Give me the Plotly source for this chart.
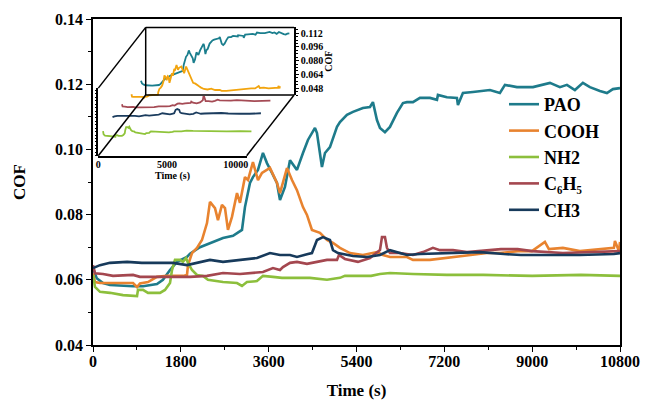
import plotly.graph_objects as go

# ---------------- data ----------------
SERIES = ["PAO", "COOH", "NH2", "C6H5", "CH3"]
LABELS = ["PAO", "COOH", "NH2", "C₆H₅", "CH3"]

pao_t = [0, 76, 205, 348, 820, 1025, 1311, 1434, 1578, 1721, 1926, 1988, 2192, 2397, 2664, 2869, 3053, 3114,
         3217, 3278, 3381, 3483, 3565, 3668, 3770, 3832, 3934, 4037, 4180, 4303, 4405, 4549, 4590, 4692, 4754,
         4856, 5000, 5061, 5204, 5327, 5532, 5676, 5737, 5819, 5881, 5983, 6086, 6229, 6352, 6434, 6557, 6700,
         6905, 7049, 7069, 7253, 7458, 7479, 7581, 7786, 8135, 8339, 8442, 8688, 9016, 9364, 9569, 9712, 9876,
         10040, 10183, 10388, 10532, 10655, 10800]
pao_v = [0.0636, 0.0605, 0.059, 0.0584, 0.058, 0.058, 0.0587, 0.060, 0.063, 0.0655, 0.067, 0.068, 0.070, 0.0713,
         0.0728, 0.0735, 0.0753, 0.0823, 0.0897, 0.0915, 0.0937, 0.0989, 0.0958, 0.0928, 0.0897, 0.0845, 0.0885,
         0.0967, 0.0937, 0.0989, 0.1029, 0.1066, 0.105, 0.0946, 0.0989, 0.1007, 0.1069, 0.1084, 0.1106, 0.1115,
         0.1127, 0.113, 0.1145, 0.109, 0.1066, 0.1053, 0.1069, 0.1112, 0.1142, 0.1145, 0.1145, 0.1158, 0.1158,
         0.1152, 0.1167, 0.116, 0.1158, 0.1136, 0.1173, 0.1176, 0.1182, 0.1173, 0.1198, 0.1191, 0.1191, 0.1204,
         0.1191, 0.1198, 0.1182, 0.1204, 0.1191, 0.1179, 0.1173, 0.1185, 0.1188]

cooh_t = [0, 41, 143, 820, 902, 963, 1127, 1311, 1516, 1844, 1926, 1947, 2029, 2131, 2233, 2336, 2397, 2500, 2561,
          2643, 2705, 2766, 2848, 2951, 3012, 3114, 3176, 3278, 3381, 3463, 3627, 3770, 3832, 3975, 4078, 4180,
          4303, 4385, 4487, 4651, 4795, 4918, 5061, 5266, 5532, 5819, 5942, 6086, 6434, 6557, 6905, 7253, 7581,
          7868, 8073, 8339, 8708, 8995, 9261, 9343, 9630, 9978, 10327, 10675, 10696, 10778, 10800]
cooh_v = [0.062, 0.0593, 0.059, 0.059, 0.0578, 0.0589, 0.0593, 0.0609, 0.0612, 0.0612, 0.0615, 0.0645, 0.0682,
          0.0698, 0.0722, 0.0774, 0.0839, 0.082, 0.0783, 0.083, 0.082, 0.0753, 0.0793, 0.0866, 0.0836, 0.0915,
          0.0906, 0.0961, 0.0906, 0.0928, 0.0943, 0.0897, 0.0866, 0.0943, 0.0906, 0.0875, 0.0823, 0.0799, 0.0753,
          0.0744, 0.0722, 0.0713, 0.0698, 0.0682, 0.0676, 0.0685, 0.0676, 0.067, 0.067, 0.0661, 0.0661, 0.0667,
          0.0673, 0.0679, 0.0682, 0.0682, 0.0688, 0.0688, 0.0716, 0.0694, 0.0698, 0.0688, 0.0694, 0.0698, 0.0719,
          0.0688, 0.0716]

nh2_t = [0, 41, 143, 348, 615, 902, 922, 1025, 1127, 1373, 1475, 1578, 1619, 1680, 1783, 1844, 1906, 1947, 2029,
         2131, 2254, 2356, 2664, 2951, 3053, 3155, 3360, 3483, 3688, 3873, 4037, 4446, 4795, 5061, 5163, 5700,
         5880, 6086, 6557, 7253, 8000, 9000, 10000, 10800]
nh2_v = [0.0615, 0.0578, 0.0563, 0.056, 0.0553, 0.055, 0.0569, 0.0569, 0.056, 0.056, 0.0569, 0.059, 0.063, 0.0661,
         0.0661, 0.0655, 0.0667, 0.0652, 0.063, 0.0615, 0.0612, 0.060, 0.0593, 0.059, 0.0581, 0.0593, 0.0596,
         0.0612, 0.0609, 0.0606, 0.0606, 0.0606, 0.060, 0.0606, 0.0612, 0.0612, 0.0618, 0.0621, 0.0618, 0.0615,
         0.0615, 0.0612, 0.0615, 0.0612]

c6h5_t = [0, 41, 205, 410, 820, 963, 1311, 1640, 1988, 2336, 2664, 3012, 3217, 3483, 3688, 3832, 3893, 4037, 4180,
          4385, 4590, 4795, 5000, 5041, 5163, 5430, 5676, 5881, 5922, 5983, 6024, 6086, 6290, 6557, 6761, 6966,
          7110, 7376, 7663, 7930, 8360, 8700, 9000, 9630, 10240, 10800]
c6h5_v = [0.0645, 0.062, 0.0618, 0.0612, 0.0615, 0.0609, 0.0609, 0.0609, 0.0609, 0.0612, 0.0621, 0.0618, 0.0621,
          0.0624, 0.0636, 0.063, 0.0639, 0.0652, 0.0655, 0.0649, 0.0655, 0.0661, 0.0661, 0.0676, 0.0664, 0.0655,
          0.0667, 0.0691, 0.0731, 0.0731, 0.0698, 0.0682, 0.0682, 0.0676, 0.0685, 0.0698, 0.0691, 0.0691, 0.0685,
          0.0688, 0.0694, 0.0694, 0.0688, 0.0682, 0.0685, 0.0688]

ch3_t = [0, 41, 143, 348, 700, 1000, 1311, 1640, 1926, 2131, 2397, 2664, 3012, 3360, 3627, 3832, 4037, 4180, 4405,
         4487, 4590, 4713, 4856, 4918, 5020, 5327, 5614, 5881, 6086, 6229, 6434, 6700, 7253, 7500, 7930, 8420,
         8770, 9261, 9978, 10675, 10800]
ch3_v = [0.0636, 0.0639, 0.0645, 0.0652, 0.0655, 0.0652, 0.0652, 0.0652, 0.0645, 0.0652, 0.0661, 0.0655, 0.0661,
         0.0667, 0.0682, 0.0676, 0.0676, 0.067, 0.0679, 0.0682, 0.0722, 0.0731, 0.0722, 0.0691, 0.0682, 0.0673,
         0.067, 0.0676, 0.0691, 0.0685, 0.0676, 0.0679, 0.0682, 0.0682, 0.0685, 0.0679, 0.0676, 0.0676, 0.0676,
         0.0679, 0.0682]

X_TICKS = [0, 1800, 3600, 5400, 7200, 9000, 10800]
Y_TICKS = [0.04, 0.06, 0.08, 0.10, 0.12, 0.14]
INSET_X_TICKS = [0, 5000, 10000]
INSET_Z_TICKS = [0.048, 0.064, 0.080, 0.096, 0.112]

DATA = {"PAO": (pao_t, pao_v), "COOH": (cooh_t, cooh_v), "NH2": (nh2_t, nh2_v),
        "C6H5": (c6h5_t, c6h5_v), "CH3": (ch3_t, ch3_v)}

# ---------------- styles ----------------
MAIN_COLORS = {"PAO": "#1e7b8b", "COOH": "#e8832f", "NH2": "#8cbf3c", "C6H5": "#a4474f", "CH3": "#173a5b"}
INSET_COLORS = {"PAO": "#1a7e8d", "COOH": "#f2a40e", "NH2": "#8fc43a", "C6H5": "#a54b55", "CH3": "#1b3c5e"}
DEPTH = {"NH2": 0.1, "CH3": 0.3, "C6H5": 0.5, "COOH": 0.7, "PAO": 0.9}   # waterfall depth fraction

FONT = "Liberation Serif"
W, H = 648, 400
ML, MR, MT, MB = 93, 28, 19, 55
PW, PH = W - ML - MR, H - MT - MB


def fx(px):
    return (px - ML) / PW


def fy(py):
    return (H - MB - py) / PH


# inset geometry (pixels)
IX0, IX1 = 98.3, 246.7      # front bottom edge
IYB = 155.7                 # front bottom y
DXP, DYP = 47.4, 60.7       # depth offset of the back panel
IH = 67.6                   # wall height
ZPX = 859.4                 # pixels per COF unit on the inset
Z0 = 0.04
T_MAX = 10800
S_T = T_MAX / (IX1 - IX0)   # seconds per pixel
DEPTH_T = DXP * S_T
DEPTH_V = DYP / ZPX

fig = go.Figure()

# main traces
for name, lab in zip(SERIES, LABELS):
    t, v = DATA[name]
    fig.add_trace(go.Scatter(x=t, y=v, mode="lines", name=lab,
                             line=dict(color=MAIN_COLORS[name], width=2.6),
                             xaxis="x", yaxis="y"))

# inset (waterfall) traces, back to front
for name in ["PAO", "COOH", "C6H5", "CH3", "NH2"]:
    t, v = DATA[name]
    f = DEPTH[name]
    fig.add_trace(go.Scatter(x=[ti + f * DEPTH_T for ti in t], y=[vi + f * DEPTH_V for vi in v],
                             mode="lines", showlegend=False, hoverinfo="skip",
                             line=dict(color=INSET_COLORS[name], width=1.8),
                             xaxis="x2", yaxis="y2"))

# invisible helpers so that the inset frame axes get drawn
hidden = dict(mode="markers", marker=dict(opacity=0, size=1), showlegend=False, hoverinfo="skip")
fig.add_trace(go.Scatter(x=INSET_X_TICKS, y=[Z0] * len(INSET_X_TICKS), xaxis="x3", yaxis="y2", **hidden))
fig.add_trace(go.Scatter(x=[0] * len(INSET_Z_TICKS), y=INSET_Z_TICKS, xaxis="x2", yaxis="y3", **hidden))
fig.add_trace(go.Scatter(x=[0] * len(INSET_Z_TICKS), y=INSET_Z_TICKS, xaxis="x3", yaxis="y4", **hidden))

bold = dict(family=FONT, color="black", weight="bold")

top_px = IYB - DYP - IH
back_bottom = IYB - DYP

fig.update_layout(
    width=W, height=H,
    margin=dict(l=ML, r=MR, t=MT, b=MB, pad=0, autoexpand=False),
    paper_bgcolor="white", plot_bgcolor="rgba(0,0,0,0)",
    font=dict(family=FONT, color="black"),
    showlegend=True,
    legend=dict(x=fx(504), y=fy(86), xanchor="left", yanchor="top",
                font=dict(size=18, **bold), bgcolor="rgba(0,0,0,0)",
                tracegroupgap=0, itemwidth=30),
    xaxis=dict(domain=[0, 1], range=[0, 10800], tickvals=X_TICKS, ticktext=[str(v) for v in X_TICKS],
               showline=True, linecolor="black", linewidth=1.5, mirror=True, automargin=False,
               ticks="outside", ticklen=5, tickwidth=1.2, tickcolor="black", ticklabelstandoff=-4,
               minor=dict(dtick=900, ticks="outside", ticklen=3, tickcolor="black", tickwidth=1),
               showgrid=False, zeroline=False,
               tickfont=dict(size=16, **bold),
               title=dict(text="Time (s)", font=dict(size=17, **bold), standoff=38)),
    yaxis=dict(domain=[0, 1], range=[0.04, 0.14], tickvals=Y_TICKS, tickformat=".2f",
               showline=True, linecolor="black", linewidth=1.5, mirror=True, automargin=False,
               ticks="outside", ticklen=5, tickwidth=1.2, tickcolor="black",
               minor=dict(dtick=0.01, ticks="outside", ticklen=3, tickcolor="black", tickwidth=1),
               showgrid=False, zeroline=False,
               tickfont=dict(size=16, **bold),
               title=dict(text="COF", font=dict(size=17, **bold), standoff=25)),
    # inset data axes (hidden)
    xaxis2=dict(domain=[fx(IX0), fx(IX1 + DXP)], range=[0, (IX1 + DXP - IX0) * S_T], anchor="y2",
                visible=False, fixedrange=True),
    yaxis2=dict(domain=[fy(IYB), fy(top_px)], range=[Z0, Z0 + (IYB - top_px) / ZPX], anchor="x2",
                visible=False, fixedrange=True),
    # inset front time axis
    xaxis3=dict(domain=[fx(IX0), fx(IX1)], range=[0, T_MAX], anchor="y2", automargin=False,
                showline=True, linecolor="black", linewidth=1.5, ticks="",
                tickvals=INSET_X_TICKS, ticktext=[str(v) for v in INSET_X_TICKS],
                showgrid=False, zeroline=False,
                tickfont=dict(size=10, **bold), ticklabelstandoff=-1,
                title=dict(text="Time (s)", font=dict(size=10, **bold), standoff=1)),
    # inset back-panel COF axis (right side)
    yaxis3=dict(domain=[fy(back_bottom), fy(top_px)], range=[Z0, Z0 + IH / ZPX], anchor="x2", side="right",
                showline=True, linecolor="black", linewidth=1.5, automargin=False,
                tickvals=INSET_Z_TICKS, tickformat=".3f", ticks="outside", ticklen=3, tickcolor="black",
                minor=dict(dtick=0.004, ticks="outside", ticklen=2, tickcolor="black"),
                showgrid=False, zeroline=False,
                tickfont=dict(size=10, **bold),
                title=dict(text="COF", font=dict(size=10, **bold), standoff=3)),
    # inset left wall edge
    yaxis4=dict(domain=[fy(IYB), fy(IYB - IH)], range=[Z0, Z0 + IH / ZPX], anchor="x3", side="left",
                showline=True, linecolor="black", linewidth=1.5, showticklabels=False, automargin=False,
                ticks="outside", ticklen=2, tickcolor="black", dtick=0.004,
                showgrid=False, zeroline=False),
)

line_style = dict(color="black", width=1.5)
edges = [
    (IX0 + DXP, top_px, IX1 + DXP, top_px),          # back panel top
    (IX0 + DXP, top_px, IX0 + DXP, back_bottom),     # back panel left
    (IX0 + DXP, back_bottom, IX1 + DXP, back_bottom),  # back panel bottom
    (IX1, IYB, IX1 + DXP, back_bottom),              # floor right edge
    (IX0, IYB, IX0 + DXP, back_bottom),              # floor left edge
    (IX0, IYB - IH, IX0 + DXP, top_px),              # wall top edge
]
for x0, y0, x1, y1 in edges:
    fig.add_shape(type="line", xref="paper", yref="paper",
                  x0=fx(x0), y0=fy(y0), x1=fx(x1), y1=fy(y1), line=line_style)

fig.write_html("out.html")
